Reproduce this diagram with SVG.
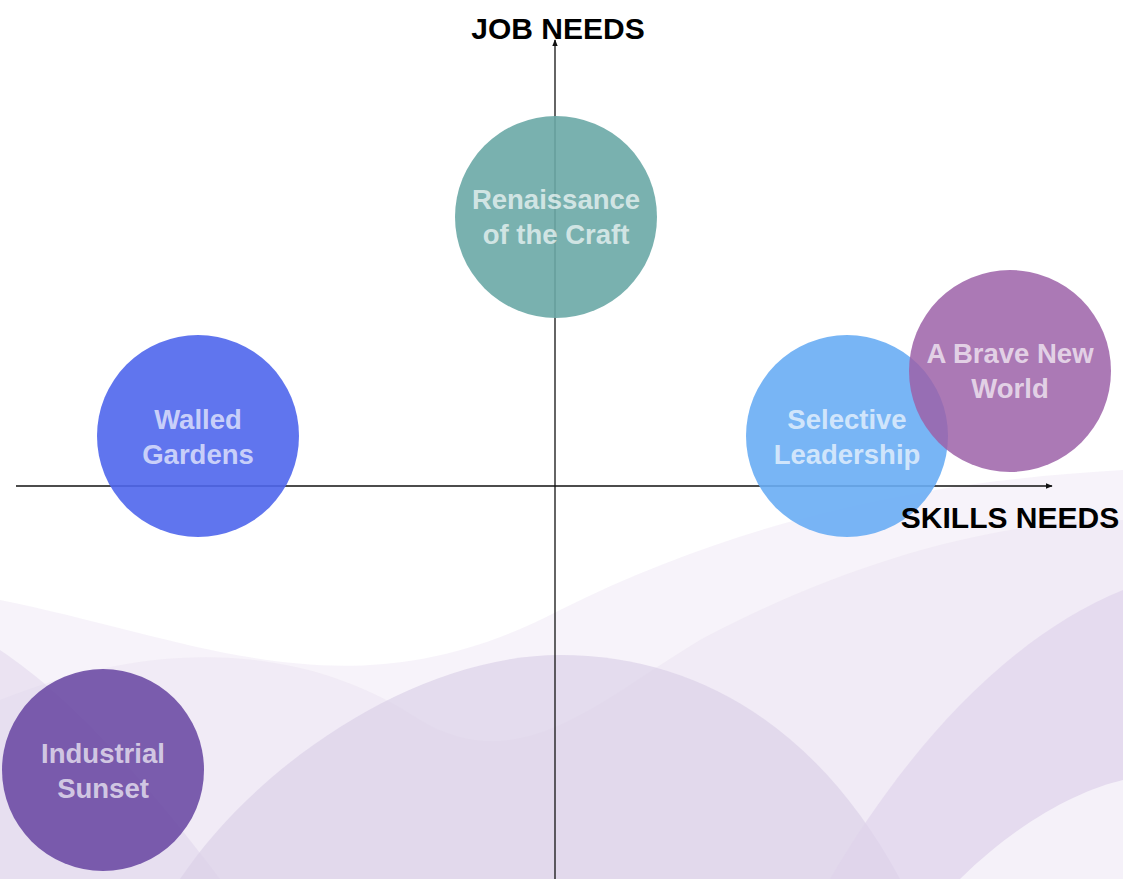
<svg xmlns="http://www.w3.org/2000/svg" width="1123" height="879" viewBox="0 0 1123 879">
<defs>
<style>
.axis{stroke:#111;stroke-width:1.3;fill:none}
.axlab{font-family:"Liberation Sans",Arial,sans-serif;font-weight:bold;font-size:30px;fill:#000}
.lab{font-family:"Liberation Sans",Arial,sans-serif;font-weight:bold;font-size:27.5px;text-anchor:middle;fill:#fff;fill-opacity:0.68}
.wave{stroke:none}
</style>
<marker id="arr" viewBox="0 0 10 10" refX="9" refY="5" markerWidth="7" markerHeight="7" orient="auto" markerUnits="userSpaceOnUse">
<path d="M0,1 L10,5 L0,9 Z" fill="#111"/>
</marker>
</defs>
<rect width="1123" height="879" fill="#ffffff"/>
<g id="background">
<path class="wave" d="M0,600 C200,640 350,720 560,610 C760,510 950,480 1123,470 L1123,879 L0,879 Z" fill="#f1ebf6" fill-opacity="0.6"/>
<path class="wave" d="M0,700 C150,640 300,640 420,720 C520,780 600,700 700,640 C850,560 1000,520 1123,520 L1123,879 L0,879 Z" fill="#ebe3f2" fill-opacity="0.5"/>
<path class="wave" d="M180,879 C260,760 420,655 560,655 C700,655 820,730 900,879 Z" fill="#dcd1e8" fill-opacity="0.7"/>
<path class="wave" d="M830,879 C900,760 1000,640 1123,590 L1123,879 Z" fill="#dfd3eb" fill-opacity="0.65"/>
<path class="wave" d="M960,879 C1020,820 1080,790 1123,780 L1123,879 Z" fill="#ffffff" fill-opacity="0.6"/>
<path class="wave" d="M0,650 C60,690 130,760 220,879 L0,879 Z" fill="#dcd1e8" fill-opacity="0.45"/>
</g>
<g id="connectors">
<line class="axis" x1="555" y1="879" x2="555" y2="40" marker-end="url(#arr)"/>
<line class="axis" x1="16" y1="486" x2="1052" y2="486" marker-end="url(#arr)"/>
</g>
<g id="node-renaissance">
<circle cx="556" cy="217" r="101" fill="#6aa8a6" fill-opacity="0.9"/>
<text class="lab" x="556" y="209">Renaissance</text>
<text class="lab" x="556" y="244">of the Craft</text>
</g>
<g id="node-walled">
<circle cx="198" cy="436" r="101" fill="#4f66ec" fill-opacity="0.9"/>
<text class="lab" x="198" y="429">Walled</text>
<text class="lab" x="198" y="464">Gardens</text>
</g>
<g id="node-selective">
<circle cx="847" cy="436" r="101" fill="#69adf4" fill-opacity="0.9"/>
<text class="lab" x="847" y="429">Selective</text>
<text class="lab" x="847" y="464">Leadership</text>
</g>
<g id="node-brave">
<circle cx="1010" cy="371" r="101" fill="#9c62a8" fill-opacity="0.85"/>
<text class="lab" x="1010" y="363">A Brave New</text>
<text class="lab" x="1010" y="398">World</text>
</g>
<g id="node-industrial">
<circle cx="103" cy="770" r="101" fill="#6543a0" fill-opacity="0.85"/>
<text class="lab" x="103" y="763">Industrial</text>
<text class="lab" x="103" y="798">Sunset</text>
</g>
<g id="axis-labels">
<text class="axlab" x="558" y="39" text-anchor="middle">JOB NEEDS</text>
<text class="axlab" x="1010" y="528" text-anchor="middle">SKILLS NEEDS</text>
</g>
</svg>
